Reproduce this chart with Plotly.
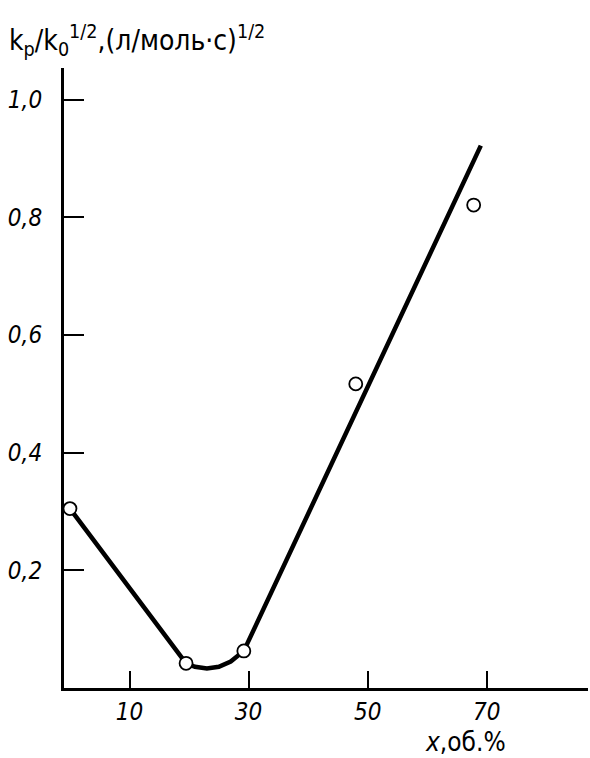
import plotly.graph_objects as go

# measured points
pt_x = [0, 19.5, 29.2, 48, 67.8]
pt_y = [0.305, 0.042, 0.063, 0.517, 0.821]

# drawn curve
curve_x = [0, 19.5, 21, 23, 25, 27, 29.2, 69]
curve_y = [0.305, 0.042, 0.036, 0.033, 0.036, 0.045, 0.063, 0.922]

x_ticks = [10, 30, 50, 70]
x_ticktext = ["10", "30", "50", "70"]
y_ticks = [0.2, 0.4, 0.6, 0.8, 1.0]
y_ticktext = ["0,2", "0,4", "0,6", "0,8", "1,0"]

FONT = "DejaVu Sans Condensed, Liberation Sans Narrow, sans-serif"

fig = go.Figure()
fig.add_trace(go.Scatter(x=curve_x, y=curve_y, mode="lines",
                         line=dict(color="black", width=4.5), showlegend=False,
                         hoverinfo="skip"))
fig.add_trace(go.Scatter(x=pt_x, y=pt_y, mode="markers",
                         marker=dict(symbol="circle", size=13, color="white",
                                     line=dict(color="black", width=1.8)),
                         showlegend=False, cliponaxis=False))

fig.update_layout(
    width=590, height=758,
    margin=dict(l=64, r=2, t=68, b=70, autoexpand=False),
    paper_bgcolor="white", plot_bgcolor="white",
    font=dict(family=FONT, color="black", size=24),
    xaxis=dict(range=[-1, 87], tickvals=x_ticks, ticktext=x_ticktext,
               ticks="inside", ticklen=17, tickwidth=1.5, tickcolor="black",
               showline=True, linecolor="black", linewidth=3,
               showgrid=False, zeroline=False, automargin=False,
               tickfont=dict(family=FONT, size=24, style="italic")),
    yaxis=dict(range=[0, 1.054], tickvals=y_ticks, ticktext=y_ticktext,
               ticks="inside", ticklen=20, tickwidth=1.5, tickcolor="black",
               showline=True, linecolor="black", linewidth=3,
               showgrid=False, zeroline=False, ticklabelstandoff=14,
               automargin=False,
               tickfont=dict(family=FONT, size=24, style="italic")),
)

fig.add_annotation(
    text="k<sub>p</sub>/k<sub>0</sub><sup>1/2</sup>,(л/моль·с)<sup>1/2</sup>",
    xref="paper", yref="paper", x=-0.108, y=1.045, xanchor="left", yanchor="middle",
    showarrow=False, font=dict(family=FONT, size=28, color="black"))

fig.add_annotation(
    text="<i>x</i>,об.%",
    xref="paper", yref="paper", x=0.685, y=-0.087, xanchor="left", yanchor="middle",
    showarrow=False, font=dict(family=FONT, size=26, color="black"))

fig.write_html("out.html", config={"displayModeBar": False},
               post_script="document.body.style.margin='0';document.body.style.overflow='hidden';")
